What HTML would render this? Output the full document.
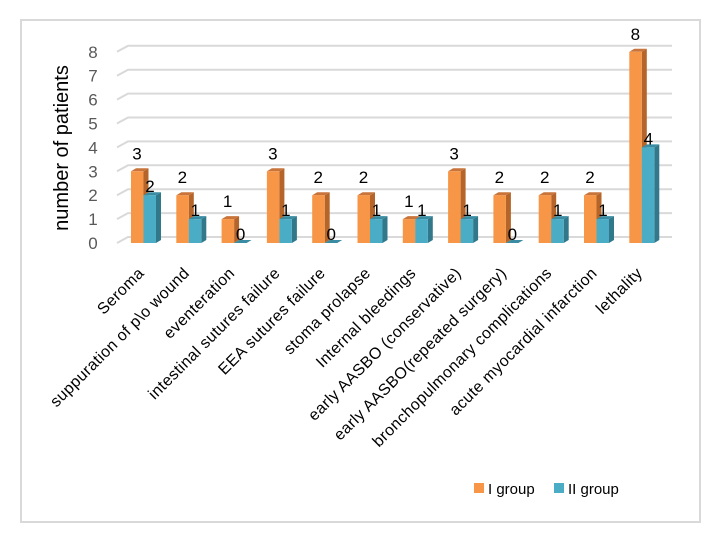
<!DOCTYPE html>
<html><head><meta charset="utf-8"><style>
body{margin:0;background:#fff;}
svg{display:block;font-family:"Liberation Sans",sans-serif;}
</style></head><body>
<svg id="chart" width="719" height="545">
<rect x="21" y="20" width="679" height="502" fill="#fff" stroke="#d9d9d9" stroke-width="2"/>
<g id="grid"></g>
<g id="bars"></g>
<g id="labels"></g>
<text transform="translate(68,148) rotate(-90)" text-anchor="middle" font-size="20" fill="#000">number of patients</text>
<g>
<rect x="474" y="483" width="10" height="10" fill="#F79646"/>
<text x="488" y="494" font-size="15" fill="#000">I group</text>
<rect x="554" y="483" width="10" height="10" fill="#4BACC6"/>
<text x="568" y="494" font-size="15" fill="#000">II group</text>
</g>
</svg>
<script>
const categories=["Seroma","suppuration of p\\o wound","eventeration","intestinal sutures failure","EEA sutures failure","stoma prolapse","Internal bleedings","early AASBO (conservative)","early AASBO(repeated surgery)","bronchopulmonary complications","acute myocardial infarction","lethality"];
const group1=[3,2,1,3,2,2,1,3,2,2,2,8];
const group2=[2,1,0,1,0,1,1,1,0,1,1,4];
const yTicks=[0,1,2,3,4,5,6,7,8];
const NS="http://www.w3.org/2000/svg";
function y(v){return 243-v*23.9;}
function xc(i){return 131+i*45.3;}
function mk(tag,attrs,parent){const e=document.createElementNS(NS,tag);for(const k in attrs)e.setAttribute(k,attrs[k]);parent.appendChild(e);return e;}
const grid=document.getElementById('grid'),bars=document.getElementById('bars'),labels=document.getElementById('labels');
yTicks.forEach(t=>{
 const yy=y(t);
 const g=mk('path',{d:`M117 ${yy} L128 ${yy-6} L672 ${yy-6}`,fill:'none',stroke:'#d9d9d9','stroke-width':2},grid);
 
 
 const tx=mk('text',{x:93,y:yy+6,'text-anchor':'middle','font-size':17,fill:'#595959'},grid);
 tx.textContent=t;
 
 
});
function bar(x,w,v,front,side,top,name){
 const g=mk('g',{},bars);
 
 
 const t=y(v),b=y(0),d=5,dy=3;
 mk('polygon',{points:`${x+w},${t} ${x+w+d},${t-dy} ${x+w+d},${b-dy} ${x+w},${b}`,fill:side},g);
 mk('polygon',{points:`${x},${t} ${x+d},${t-dy} ${x+w+d},${t-dy} ${x+w},${t}`,fill:top},g);
 if(v>0)mk('rect',{x:x,y:t,width:w,height:b-t,fill:front},g);
}
categories.forEach((c,i)=>{
 const x=xc(i);
 bar(x,12.5,group1[i],'#F79646','#B5652A','#C8743A','bar-i-group-'+i);
 bar(x+12.5,12.5,group2[i],'#4BACC6','#31788B','#3A8CA3','bar-ii-group-'+i);
 const l1=mk('text',{x:x+6,y:y(group1[i])-12,'text-anchor':'middle','font-size':17,fill:'#000'},labels);
 l1.textContent=group1[i];
 
 
 const l2=mk('text',{x:x+19,y:y(group2[i])-3,'text-anchor':'middle','font-size':17,fill:'#000'},labels);
 l2.textContent=group2[i];
 
 
 const xl=mk('text',{transform:`translate(${x+14},274) rotate(-45)`,'text-anchor':'end','font-size':16,'letter-spacing':'0.4',fill:'#000'},labels);
 xl.textContent=c;
 
 
});
</script>
</body></html>
